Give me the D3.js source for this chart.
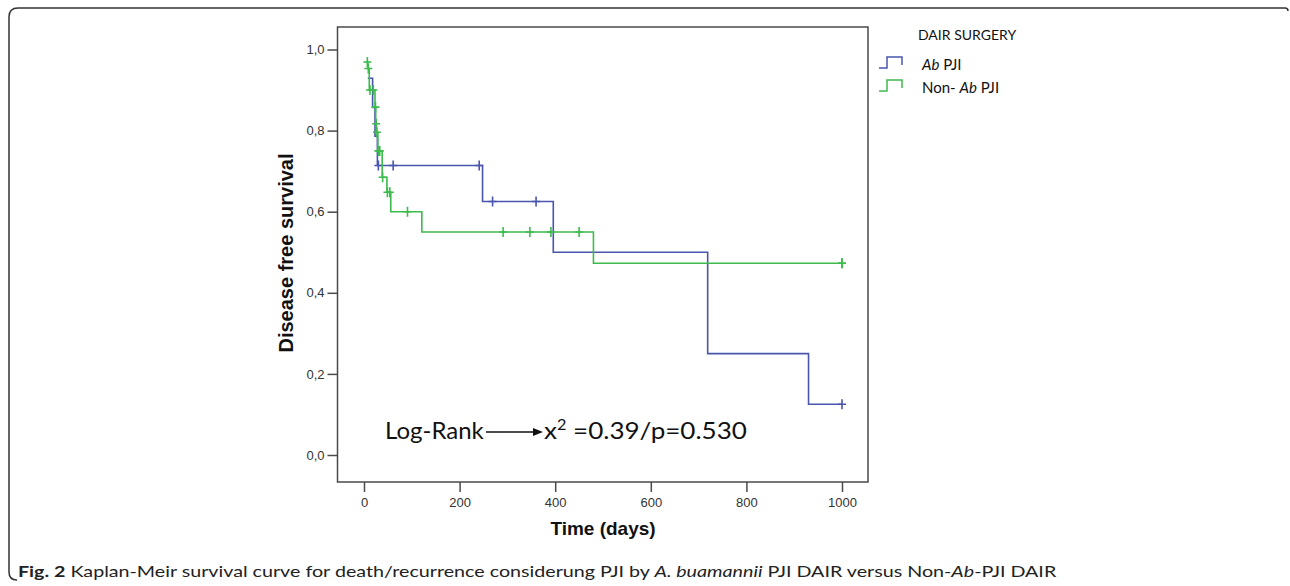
<!DOCTYPE html>
<html>
<head>
<meta charset="utf-8">
<script src="https://cdn.jsdelivr.net/npm/d3@7"></script>
<style>
  html, body { margin: 0; padding: 0; background: #fff; }
  svg { display: block; }
</style>
</head>
<body>
<div id="chart"></div>
<script>
// Kaplan-Meier curves (time in days, survival after each step)
const abTimes = [8, 18, 23, 28, 248, 396, 719, 930, 1000];
const abSurv = [0.929, 0.857, 0.786, 0.714, 0.625, 0.5, 0.25, 0.125, 0.125];
const abCensor = [30, 61, 241, 269, 360, 1000];

const nonTimes = [4, 8, 11, 23, 24.5, 26, 29, 38, 48, 56, 121, 480, 1000];
const nonSurv = [0.969, 0.953, 0.90, 0.858, 0.817, 0.796, 0.75, 0.685, 0.648, 0.60, 0.55, 0.473, 0.473];
const nonCensor = [7, 9, 12.5, 19.5, 24, 25.5, 27, 30, 33, 39, 49, 54, 91, 291, 347, 391, 450, 1000, 1000];

const xTicks = [0, 200, 400, 600, 800, 1000];
const yTicks = [0, 0.2, 0.4, 0.6, 0.8, 1.0];

const BLUE = "#4a55ad";
const GREEN = "#3dbb4c";

const width = 1290, height = 586;
const frame = { left: 337.5, right: 868, top: 27, bottom: 482 };

const svg = d3.select("#chart").append("svg")
    .attr("width", width)
    .attr("height", height);

// outer figure border (top + left, rounded)
svg.append("path")
    .attr("d", "M1288,11 Q1288,8 1285,8 L18,8 Q9,8 9,17 L9,572 Q9,580 17,580")
    .attr("fill", "none")
    .attr("stroke", "#333")
    .attr("stroke-width", 1.5);

const x = d3.scaleLinear().domain([0, 1000]).range([364, 842]);
const y = d3.scaleLinear().domain([0, 1]).range([455, 49.5]);

// plot frame
svg.append("rect")
    .attr("x", frame.left).attr("y", frame.top)
    .attr("width", frame.right - frame.left)
    .attr("height", frame.bottom - frame.top)
    .attr("fill", "none")
    .attr("stroke", "#4a4a4a")
    .attr("stroke-width", 1.5);

// axes
const yAxis = svg.append("g")
    .attr("transform", `translate(${frame.left},0)`)
    .call(d3.axisLeft(y).tickValues(yTicks).tickSize(10).tickPadding(3)
        .tickFormat(d => d3.format(".1f")(d).replace(".", ",")));

const xAxis = svg.append("g")
    .attr("transform", `translate(0,${frame.bottom})`)
    .call(d3.axisBottom(x).tickValues(xTicks).tickSize(10).tickPadding(6)
        .tickFormat(d3.format("d")));

[xAxis, yAxis].forEach(a => {
    a.select(".domain").remove();
    a.selectAll(".tick line").attr("stroke", "#4a4a4a").attr("stroke-width", 1.5);
    a.selectAll(".tick text")
        .attr("fill", "#333")
        .attr("font-family", "Liberation Sans, Arial, sans-serif")
        .attr("font-size", "13px");
});

// axis titles
svg.append("text")
    .attr("transform", "translate(293,253) rotate(-90)")
    .attr("text-anchor", "middle")
    .attr("font-family", "Liberation Sans, Arial, sans-serif")
    .attr("font-weight", "bold")
    .attr("font-size", "20px")
    .attr("fill", "#111")
    .text("Disease free survival");

svg.append("text")
    .attr("x", 603).attr("y", 535)
    .attr("text-anchor", "middle")
    .attr("font-family", "Liberation Sans, Arial, sans-serif")
    .attr("font-weight", "bold")
    .attr("font-size", "19px")
    .attr("fill", "#111")
    .text("Time (days)");

// survival step lines
const line = d3.line()
    .x(d => x(d[0]))
    .y(d => y(d[1]))
    .curve(d3.curveStepAfter);

function stepAt(times, surv, t) {
    let s = surv[0];
    for (let i = 0; i < times.length; i++) if (times[i] <= t) s = surv[i];
    return s;
}

const series = [
    { times: abTimes, surv: abSurv, censor: abCensor, color: BLUE },
    { times: nonTimes, surv: nonSurv, censor: nonCensor, color: GREEN }
];

series.forEach(s => {
    const g = svg.append("g");
    g.append("path")
        .datum(d3.zip(s.times, s.surv))
        .attr("d", line)
        .attr("fill", "none")
        .attr("stroke", s.color)
        .attr("stroke-width", 1.6);

    g.selectAll("path.cens")
        .data(s.censor)
        .join("path")
        .attr("class", "cens")
        .attr("d", t => {
            const cx = x(t), cy = y(stepAt(s.times, s.surv, t));
            return `M${cx},${cy - 5}V${cy + 5}M${cx - 4},${cy}H${cx + 4}`;
        })
        .attr("stroke", s.color)
        .attr("stroke-width", 1.6)
        .attr("fill", "none");
});

// log-rank annotation
const note = svg.append("g")
    .attr("font-family", "Lato, 'Open Sans', sans-serif")
    .attr("font-size", "24px")
    .attr("fill", "#111");
note.append("text").attr("x", 385).attr("y", 439).text("Log-Rank");
note.append("line")
    .attr("x1", 486).attr("y1", 432).attr("x2", 535).attr("y2", 432)
    .attr("stroke", "#111").attr("stroke-width", 1.4);
note.append("path")
    .attr("d", "M543,432 L533,428 L533,436 Z")
    .attr("fill", "#111");
const lr = note.append("text").attr("x", 544).attr("y", 439);
lr.append("tspan").text("x");
lr.append("tspan").attr("font-size", "15px").attr("dy", -9).text("2");
lr.append("tspan").attr("dy", 9).text(" =0.39/p=0.530");
const lrW = lr.node().getComputedTextLength();
lr.attr("transform", `translate(544,0) scale(${203 / lrW},1) translate(-544,0)`);

// legend
const legend = svg.append("g")
    .attr("font-family", "Lato, 'Open Sans', sans-serif")
    .attr("fill", "#111");
legend.append("text").attr("x", 918).attr("y", 40)
    .attr("font-size", "14px").text("DAIR SURGERY");

const legendItems = [
    { color: BLUE, parts: [["Ab", true], [" PJI", false]] },
    { color: GREEN, parts: [["Non- ", false], ["Ab", true], [" PJI", false]] }
];
legendItems.forEach((it, i) => {
    const by = 68 + i * 23;
    legend.append("path")
        .attr("d", `M879,${by}H887V${by - 11}H902V${by - 3}`)
        .attr("fill", "none")
        .attr("stroke", it.color)
        .attr("stroke-width", 1.5);
    const t = legend.append("text").attr("x", 922).attr("y", by + 2).attr("font-size", "15px");
    it.parts.forEach(p => t.append("tspan").attr("font-style", p[1] ? "italic" : "normal").text(p[0]));
});

// caption
const cap = svg.append("text")
    .attr("x", 0).attr("y", 0)
    .attr("font-family", "Lato, 'Open Sans', sans-serif")
    .attr("font-size", "16px")
    .attr("fill", "#222");
const capParts = [
    ["Fig. 2", "bold", "normal"],
    [" Kaplan-Meir survival curve for death/recurrence considerung PJI by ", "normal", "normal"],
    ["A. buamannii", "normal", "italic"],
    [" PJI DAIR versus Non-", "normal", "normal"],
    ["Ab", "normal", "italic"],
    ["-PJI DAIR", "normal", "normal"]
];
capParts.forEach(p => cap.append("tspan")
    .attr("font-weight", p[1]).attr("font-style", p[2]).text(p[0]));
const capW = cap.node().getComputedTextLength();
cap.attr("transform", `translate(18,577) scale(${(1057 - 18) / capW},1)`);
</script>
</body>
</html>
